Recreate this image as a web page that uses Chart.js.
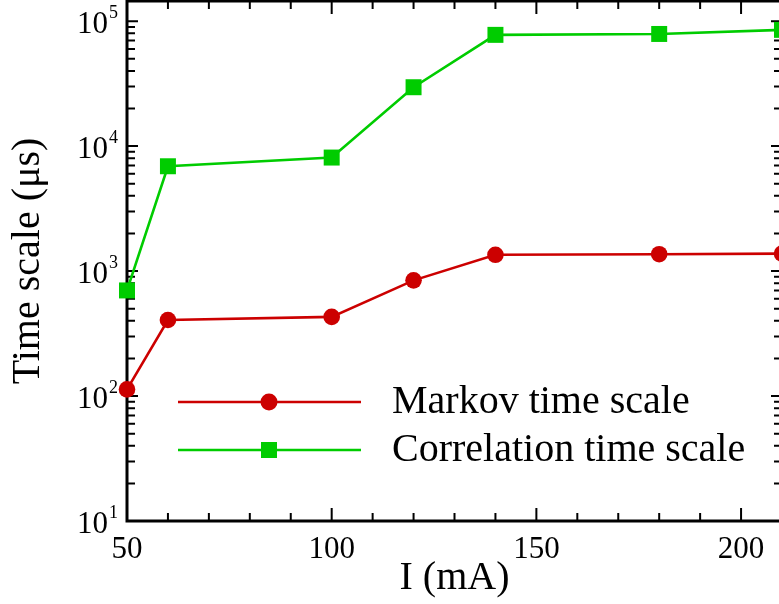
<!DOCTYPE html>
<html>
<head>
<meta charset="utf-8">
<script src="https://cdn.jsdelivr.net/npm/chart.js@4.4.1/dist/chart.umd.min.js"></script>
<style>
  html, body { margin: 0; padding: 0; background: #fff; overflow: hidden; }
  #wrap { width: 790px; height: 604px; position: relative; }
</style>
</head>
<body>
<div id="wrap"><canvas id="myChart"></canvas></div>
<script>
// data
const currents = [50, 60, 100, 120, 140, 180, 210];
const markovTimes = [113, 406, 430, 843, 1350, 1365, 1380];
const correlationTimes = [700, 6900, 8100, 29600, 77700, 79000, 85200];

const xTicks = [50, 100, 150, 200];
const yTicks = [10, 100, 1000, 10000, 100000];
const yTickExps = ['1', '2', '3', '4', '5'];

const SERIF = '"Liberation Serif", "Times New Roman", Times, serif';
const RED = '#cc0000';
const GREEN = '#00cc00';

// frame with inward ticks on all four sides, drawn from the scales
const framePlugin = {
    id: 'frame',
    beforeDatasetsDraw(chart) {
        const ctx = chart.ctx;
        const a = chart.chartArea;
        const xs = chart.scales.x;
        const ys = chart.scales.y;
        ctx.save();
        ctx.strokeStyle = '#000';
        ctx.lineWidth = 2;
        ctx.beginPath();
        for (let v = xs.min; v <= xs.max; v += 10) {
            const px = xs.getPixelForValue(v);
            const len = xTicks.includes(v) ? 13 : 8;
            ctx.moveTo(px, a.bottom); ctx.lineTo(px, a.bottom - len);
            ctx.moveTo(px, a.top); ctx.lineTo(px, a.top + len);
        }
        for (let d = 10; d <= 100000; d *= 10) {
            for (let m = 1; m <= 9; m++) {
                const v = d * m;
                if (v > ys.max) break;
                const py = ys.getPixelForValue(v);
                const len = m === 1 ? 11 : 8;
                ctx.moveTo(a.left, py); ctx.lineTo(a.left + len, py);
                ctx.moveTo(a.right, py); ctx.lineTo(a.right - len, py);
            }
        }
        ctx.stroke();
        ctx.lineWidth = 3;
        ctx.strokeRect(a.left, a.top, a.right - a.left, a.bottom - a.top);

        // y tick labels as 10 with a raised exponent
        ctx.fillStyle = '#000';
        ctx.textAlign = 'right';
        ctx.textBaseline = 'alphabetic';
        yTicks.forEach((v, i) => {
            const py = ys.getPixelForValue(v);
            ctx.font = '18px ' + SERIF;
            const ew = ctx.measureText(yTickExps[i]).width;
            ctx.fillText(yTickExps[i], 118, py - 3);
            ctx.font = '31px ' + SERIF;
            ctx.fillText('10', 118 - ew - 1, py + 12);
        });
        ctx.restore();
    }
};

// legend: line with the marker in the middle, text to the right
const legendPlugin = {
    id: 'lineLegend',
    afterDraw(chart) {
        const ctx = chart.ctx;
        const rows = [402, 450];
        ctx.save();
        chart.data.datasets.forEach((ds, i) => {
            const y = rows[i];
            ctx.strokeStyle = ds.borderColor;
            ctx.lineWidth = ds.borderWidth;
            ctx.beginPath();
            ctx.moveTo(178, y); ctx.lineTo(361, y);
            ctx.stroke();
            ctx.fillStyle = ds.pointBackgroundColor;
            if (ds.pointStyle === 'circle') {
                ctx.beginPath();
                ctx.arc(269, y, 8.5, 0, Math.PI * 2);
                ctx.fill();
            } else {
                ctx.fillRect(261, y - 8, 16, 16);
            }
            ctx.fillStyle = '#000';
            ctx.font = '40px ' + SERIF;
            ctx.textAlign = 'left';
            ctx.textBaseline = 'middle';
            ctx.fillText(ds.label, 392, y);
        });
        ctx.restore();
    }
};

const ctx = document.getElementById('myChart');
new Chart(ctx, {
    type: 'line',
    data: {
        datasets: [
            {
                label: 'Markov time scale',
                data: currents.map((x, i) => ({ x: x, y: markovTimes[i] })),
                borderColor: RED,
                backgroundColor: RED,
                pointBackgroundColor: RED,
                pointBorderWidth: 0,
                pointStyle: 'circle',
                pointRadius: 8.3,
                borderWidth: 2.6,
                tension: 0,
                clip: false
            },
            {
                label: 'Correlation time scale',
                data: currents.map((x, i) => ({ x: x, y: correlationTimes[i] })),
                borderColor: GREEN,
                backgroundColor: GREEN,
                pointBackgroundColor: GREEN,
                pointBorderWidth: 0,
                pointStyle: 'rect',
                pointRadius: 11.3,
                borderWidth: 2.6,
                tension: 0,
                clip: false
            }
        ]
    },
    options: {
        responsive: true,
        maintainAspectRatio: false,
        animation: false,
        layout: { autoPadding: false, padding: { top: 1, right: 8, left: 0, bottom: 0 } },
        plugins: {
            legend: { display: false },
            tooltip: { enabled: false }
        },
        scales: {
            x: {
                type: 'linear',
                min: 50,
                max: 210,
                afterBuildTicks: s => { s.ticks = xTicks.map(v => ({ value: v })); },
                afterFit: s => { s.height = 83; s.paddingLeft = 0; s.paddingRight = 0; },
                grid: { display: false, drawTicks: false },
                border: { display: false },
                ticks: {
                    color: '#000',
                    padding: 10,
                    maxRotation: 0,
                    font: { family: SERIF, size: 31 }
                },
                title: {
                    display: true,
                    text: 'I (mA)',
                    color: '#000',
                    padding: { top: 0, bottom: 2 },
                    font: { family: SERIF, size: 40 }
                }
            },
            y: {
                type: 'logarithmic',
                min: 10,
                max: 145000,
                afterBuildTicks: s => { s.ticks = yTicks.map(v => ({ value: v })); },
                afterFit: s => { s.width = 127; s.paddingTop = 0; s.paddingBottom = 0; },
                grid: { display: false, drawTicks: false },
                border: { display: false },
                ticks: { display: false },
                title: {
                    display: true,
                    text: 'Time scale (μs)',
                    color: '#000',
                    padding: { top: 4, bottom: 0 },
                    font: { family: SERIF, size: 40 }
                }
            }
        }
    },
    plugins: [framePlugin, legendPlugin]
});
</script>
</body>
</html>
